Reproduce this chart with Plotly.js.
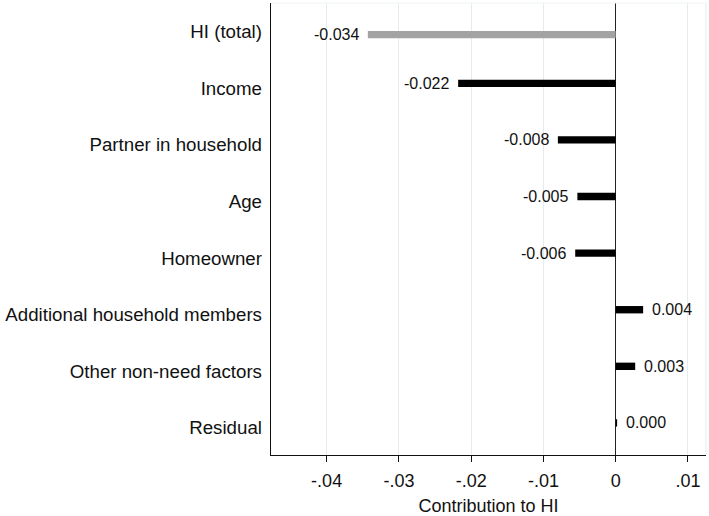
<!DOCTYPE html>
<html>
<head>
<meta charset="utf-8">
<script src="https://cdn.plot.ly/plotly-3.0.1.min.js"></script>
<style>
  html, body { margin: 0; padding: 0; background: #fff; }
  #chart { width: 709px; height: 516px; }
</style>
</head>
<body>
<div id="chart"></div>
<script>
// contributions to the horizontal inequity index, top to bottom
var factors = ["HI (total)", "Income", "Partner in household", "Age", "Homeowner",
               "Additional household members", "Other non-need factors", "Residual"];
var contributions = [-0.0343, -0.0218, -0.0080, -0.0053, -0.0056, 0.0038, 0.0027, 0.0002];
var valueLabels = ["-0.034", "-0.022", "-0.008", "-0.005", "-0.006", "0.004", "0.003", "0.000"];
var barColors = ["#a3a3a3", "#000", "#000", "#000", "#000", "#000", "#000", "#000"];

var fontFamily = "Arial, 'Liberation Sans', sans-serif";
var barWidth = 0.13;
var totalShift = 0.14;   // the total row sits a little lower than the even spacing

var bars = {
    type: 'bar',
    orientation: 'h',
    y: factors,
    x: contributions,
    width: barWidth,
    offset: factors.map(function (f, i) { return -barWidth / 2 + (i === 0 ? totalShift : 0); }),
    marker: { color: barColors, line: { width: 0 } },
    hoverinfo: 'skip'
};

// value labels next to the bar ends
var annotations = contributions.map(function (v, i) {
    return {
        x: v,
        y: i,
        xref: 'x',
        yref: 'y',
        text: valueLabels[i],
        showarrow: false,
        xanchor: v < 0 ? 'right' : 'left',
        xshift: v < 0 ? -7 : 7,
        yshift: i === 0 ? -8 : 0,
        font: { family: fontFamily, size: 16, color: '#111' }
    };
});

var layout = {
    width: 709,
    height: 516,
    margin: { l: 271, r: 3, t: 3, b: 61, pad: 0 },
    paper_bgcolor: '#fff',
    plot_bgcolor: '#fff',
    showlegend: false,
    font: { family: fontFamily, color: '#111' },
    xaxis: {
        range: [-0.0477, 0.0125],
        tickvals: [-0.04, -0.03, -0.02, -0.01, 0, 0.01],
        ticktext: ["-.04", "-.03", "-.02", "-.01", "0", ".01"],
        tickfont: { size: 18, color: '#111' },
        ticks: 'outside',
        ticklen: 6,
        tickcolor: '#111',
        ticklabelstandoff: 3,
        showgrid: true,
        gridcolor: '#e3ecf0',
        gridwidth: 1,
        zeroline: true,
        zerolinecolor: '#222',
        zerolinewidth: 1.3,
        showline: true,
        linecolor: '#111',
        linewidth: 1.3,
        title: { text: 'Contribution to HI', font: { size: 18, color: '#111' }, standoff: 13 }
    },
    yaxis: {
        type: 'category',
        range: [7.567, -0.419],
        tickfont: { size: 18.7, color: '#111' },
        ticks: '',
        ticklabelstandoff: 4,
        ticklabelshift: -5,
        showgrid: false,
        showline: true,
        linecolor: '#111',
        linewidth: 1.3
    },
    annotations: annotations,
    shapes: [
        { type: 'line', xref: 'paper', yref: 'paper', x0: 1, x1: 1, y0: 0, y1: 1,
          line: { color: '#e3ecf0', width: 1 } },
        { type: 'line', xref: 'paper', yref: 'paper', x0: 0, x1: 1, y0: 1, y1: 1,
          line: { color: '#eef3f5', width: 1 } }
    ]
};

Plotly.newPlot('chart', [bars], layout, { staticPlot: true });
</script>
</body>
</html>
